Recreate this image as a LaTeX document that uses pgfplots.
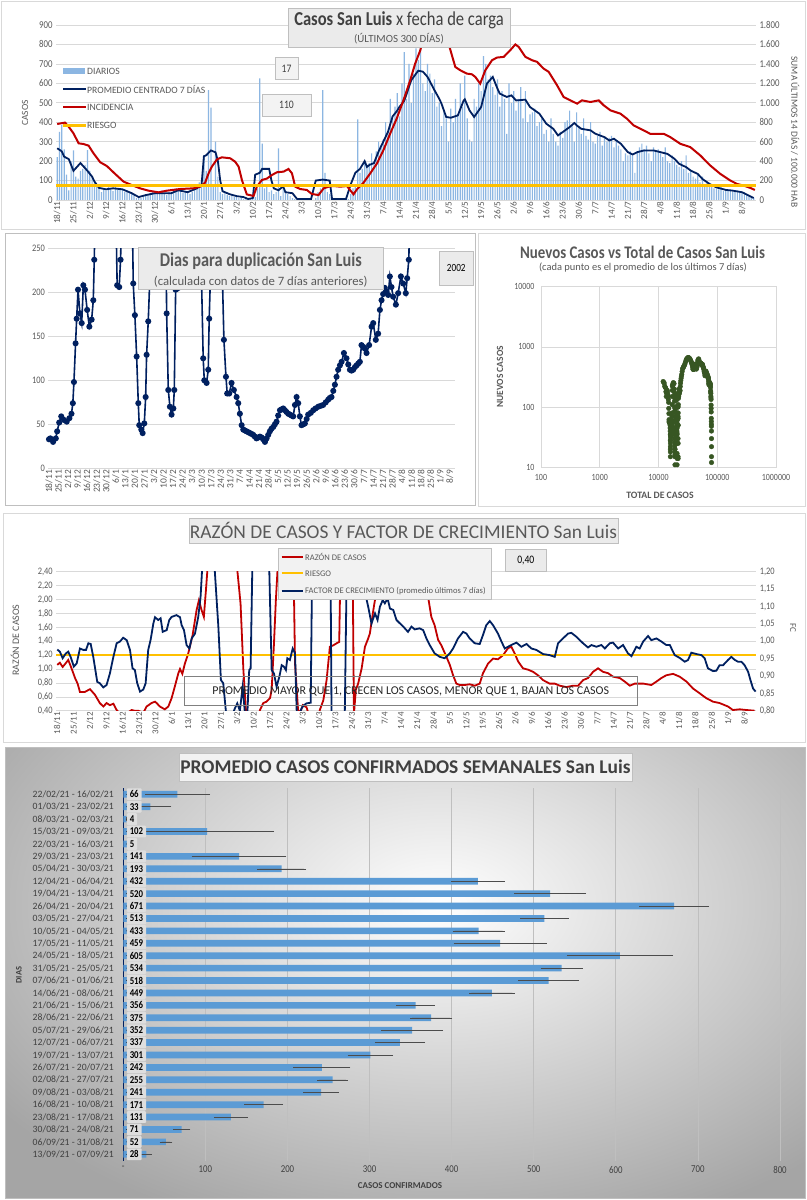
\documentclass[border=0pt]{standalone}
\usepackage{fontspec}
\setmainfont{Carlito}[FakeStretch=0.84]
\newfontfamily\rotf{Carlito}
\usepackage{pgfplots}
\usepackage{pgfplotstable}
\pgfplotsset{compat=1.18}

\definecolor{navy}{RGB}{0,32,96}
\definecolor{rojo}{RGB}{192,0,0}
\definecolor{amar}{RGB}{255,192,0}
\definecolor{celeste}{RGB}{140,182,226}
\definecolor{azul}{RGB}{91,155,213}
\definecolor{verde}{RGB}{55,86,35}
\definecolor{grilla}{RGB}{217,217,217}
\definecolor{txt}{RGB}{89,89,89}
\definecolor{oscuro}{RGB}{64,64,64}
\definecolor{caja}{RGB}{235,235,235}
\definecolor{borde}{RGB}{191,191,191}

\newcommand\fs[1]{\fontsize{#1}{#1}\selectfont}

% casos diarios, 18/11/20 .. 13/09/21 (una semana por linea)
\pgfplotstableread[header=false,row sep=\\]{
220\\350\\385\\260\\130\\50\\200\\
255\\120\\110\\150\\160\\180\\257\\
150\\120\\90\\70\\60\\40\\55\\
50\\80\\55\\45\\70\\60\\55\\
55\\40\\50\\35\\30\\25\\10\\
15\\10\\20\\30\\25\\35\\45\\
40\\35\\30\\50\\35\\25\\40\\
35\\55\\60\\45\\50\\35\\40\\
45\\30\\40\\55\\70\\90\\100\\
230\\150\\565\\475\\80\\300\\120\\
40\\30\\35\\25\\20\\30\\15\\
20\\10\\15\\5\\5\\10\\5\\
10\\15\\60\\625\\290\\60\\80\\
40\\50\\30\\40\\265\\20\\60\\
45\\30\\20\\10\\5\\0\\5\\
5\\0\\5\\0\\5\\0\\10\\
40\\60\\565\\140\\40\\30\\5\\
0\\5\\0\\5\\0\\10\\5\\
30\\60\\80\\415\\140\\160\\200\\
180\\190\\240\\200\\250\\300\\280\\
310\\400\\350\\520\\420\\480\\550\\
430\\600\\760\\520\\700\\500\\650\\
780\\720\\850\\600\\560\\700\\650\\
550\\620\\480\\500\\380\\450\\420\\
300\\470\\400\\520\\440\\600\\480\\
640\\420\\310\\300\\520\\480\\600\\
560\\740\\700\\620\\640\\580\\540\\
620\\480\\560\\520\\340\\600\\500\\
560\\460\\520\\580\\420\\560\\400\\
440\\450\\470\\380\\400\\420\\340\\
360\\300\\420\\340\\300\\280\\350\\
320\\400\\410\\460\\380\\300\\450\\
380\\340\\420\\330\\310\\400\\300\\
290\\330\\350\\280\\320\\300\\320\\
330\\270\\300\\280\\260\\200\\240\\
230\\250\\230\\140\\250\\270\\290\\
260\\280\\240\\200\\270\\250\\260\\
240\\220\\270\\200\\190\\230\\200\\
180\\170\\200\\160\\230\\140\\150\\
120\\110\\130\\90\\120\\80\\90\\
70\\80\\60\\60\\55\\70\\45\\
50\\45\\55\\40\\45\\50\\40\\
35\\40\\25\\20\\15\\10\\
}\diarios

\pgfplotstableread{
r v e
1 66 37
2 33 23
3 4 0
4 102 79
5 5 0
6 141 55
7 193 27
8 432 30
9 520 41
10 671 40
11 513 27
12 433 29
13 459 54
14 605 62
15 534 23
16 518 34
17 449 25
18 356 21
19 375 23
20 352 35
21 337 28
22 301 25
23 242 32
24 255 16
25 241 19
26 171 21
27 131 18
28 71 8
29 52 5
30 28 4
}\semanal

\pgfplotsset{
  base/.style={scale only axis, anchor=north west,
    axis line style={draw=none}, tick style={draw=none},
    /pgf/number format/assume math mode=true,
    ticklabel style={text=txt}, grid style={grilla, line width=0.6bp}},
  fechas/.style={xmin=-0.5, xtick={0,7,...,294},
    xticklabels={18/11,25/11,2/12,9/12,16/12,23/12,30/12,6/1,13/1,20/1,27/1,3/2,10/2,17/2,24/2,3/3,10/3,17/3,24/3,31/3,7/4,14/4,21/4,28/4,5/5,12/5,19/5,26/5,2/6,9/6,16/6,23/6,30/6,7/7,14/7,21/7,28/7,4/8,11/8,18/8,25/8,1/9,8/9},
    x tick label style={rotate=90, anchor=east, inner sep=1.5bp}},
}

\begin{document}
\begin{tikzpicture}
\path[use as bounding box] (0,0) rectangle (807bp,-1200bp);
\fill[white] (0,0) rectangle (807bp,-1200bp);

\begin{scope}[x=1bp,y=-1bp]
\draw[grilla, line width=0.8bp] (1.5,1.5) rectangle (805.5,229.5);
\draw[borde, line width=0.8bp] (5,233) rectangle (475,505);
\draw[grilla, line width=0.8bp] (478,233) rectangle (805,506);
\draw[grilla, line width=0.8bp] (3,513) rectangle (805,742);
\begin{scope}
\clip (5,747) rectangle (805,1198);
\shade[inner color=white, outer color={rgb,255:red,165;green,165;blue,165}] (-110,560) rectangle (990,1250);
\end{scope}
\draw[borde, line width=0.8bp] (5,747) rectangle (805,1198);
\end{scope}

% ---------- casos diarios ----------
\begin{axis}[base, fechas, at={(56bp,-25bp)}, width=700bp, height=175bp,
  xmax=300, ymin=0, ymax=900, ytick={0,100,...,900}, ymajorgrids,
  y tick label style={font=\fs{10.5}}, x tick label style={font=\rotf\fs{9.2}}]
\addplot[ybar, bar width=1.2bp, fill=celeste, draw=none]
  table[x expr=\coordindex, y index=0] {\diarios};
\addplot[navy, line width=1.8bp] coordinates {
(0,266) (2,250) (3,223) (5,210) (7,150) (10,190) (13,150) (15,120) (16,95) (18,62)
(21,55) (24,60) (28,55) (32,35) (35,15) (38,25) (42,35) (49,35) (52,50) (56,40)
(60,60) (62,80) (63,225) (64,230) (66,255) (68,245) (69,200) (70,100) (71,45) (74,30)
(77,20) (80,15) (82,5) (84,10) (85,130) (87,140) (88,160) (91,160) (92,100) (93,60)
(95,50) (97,70) (98,40) (101,35) (103,5) (109,5) (111,100) (114,105) (117,100) (118,5)
(124,5) (126,80) (128,140) (130,160) (132,200) (133,170) (134,180) (136,190) (138,250)
(140,300) (142,350) (144,430) (146,460) (147,480) (149,510) (152,616) (155,665) (157,660)
(159,633) (162,564) (164,521) (165,495) (167,427) (169,423) (172,435) (174.5,512) (175,518)
(177,461) (179,427) (182,478) (184.5,599) (187,633) (189,573) (190,547) (193,530) (195,538)
(197,512) (201,516) (203,478) (207,444) (210,392) (213,366) (215,332) (217,349) (220,375)
(222,396) (223,384) (225,366) (229,358) (231,341) (235,323) (237,306) (239,315) (242,289)
(245,246) (247,234) (249,246) (252,255) (256,255) (259,246) (262,237) (265,212) (267,186)
(270,169) (272,151) (275,134) (277,108) (280,83) (283,65) (287,52) (290,48) (294,40)
(297,22) (299,10)};
\end{axis}
\begin{axis}[base, at={(56bp,-25bp)}, width=700bp, height=175bp,
  xmin=-0.5, xmax=300, ymin=0, ymax=1800, hide x axis, axis y line*=right,
  ytick={0,200,...,1800}, yticklabels={0,200,400,600,800,1.000,1.200,1.400,1.600,1.800},
  y tick label style={font=\fs{10.5}}]
\addplot[rojo, line width=2bp] coordinates {
(0,782) (3.4,796) (4.9,755) (7,686) (9.2,583) (11.3,576) (13.5,559) (15.6,480) (18.5,388)
(21.3,350) (24.9,268) (28.5,189) (32,154) (35.6,120) (39.2,96) (43.5,79) (47.1,96)
(52.8,113) (58.5,120) (61.4,137) (63.5,178) (65,274) (66.4,343) (68.6,418) (70.7,439)
(74.3,429) (76.4,394) (77.9,343) (79.3,206) (81.4,58) (84.3,41) (85.7,137) (87.9,206)
(90,220) (92.2,257) (94.3,285) (97.2,292) (99.3,319) (100.8,274) (102.2,137) (104.3,113)
(107.2,103) (109.3,62) (112.2,51) (114.4,120) (116.5,137) (118.6,144) (121.5,137)
(124.4,144) (127.2,58) (128.7,110) (131.5,178) (134.4,274) (137.3,377) (140.1,515)
(143,686) (145.8,840) (148.7,1029) (151.6,1235) (153.7,1404) (155.9,1541) (157.3,1679)
(158.5,1850) (163,2000) (167,1850) (168,1610) (170.9,1369) (173,1335) (175.9,1300)
(178,1293) (179.5,1266) (181.6,1197) (183.8,1335) (186.7,1438) (188.8,1465) (191.7,1472)
(194.5,1541) (196.7,1600) (198.1,1575) (201,1472) (203.8,1438) (206,1421) (208.8,1352)
(211,1318) (214.6,1180) (217.4,1060) (220.3,1025) (223.2,991) (225.3,1025) (228.9,1008)
(232.5,1025) (234.6,974) (237.5,922) (241.8,888) (244.6,836) (247.5,767) (250.4,733)
(254.6,681) (260.4,681) (263.2,647) (267.5,578) (271.8,544) (276.1,458) (280.4,354)
(284.7,268) (289,200) (291.9,165) (294.7,148) (297.6,124) (299.5,103)};
\addplot[amar, line width=2.2bp] coordinates {(-0.5,150) (300,150)};
\end{axis}

% ---------- dias para duplicacion ----------
\begin{axis}[base, fechas, at={(48.3bp,-248.3bp)}, width=407bp, height=220bp,
  xmax=298, ymin=0, ymax=250, ytick={0,50,...,250}, ymajorgrids,
  y tick label style={font=\fs{10}}, x tick label style={font=\rotf\fs{9.5}}]
\addplot[navy, line width=1.6bp, mark=*, mark size=2.2bp, mark options={fill=navy}] coordinates {
(0,33) (1,34) (3,30) (5,34) (6,42) (7.5,52) (9,59) (11,55) (13,53) (15,57) (16.5,62)
(17.5,74) (18.3,98) (19.5,142) (20.3,170) (21.3,203) (22.7,176) (24,165) (25.2,208)
(26.4,203) (28,180) (29.6,161) (31.3,169) (32.5,191) (33.2,237) (34,300) (41,400)
(49,300) (50,208) (51.5,206) (52.5,237) (53.5,300) (57,400) (61,300) (61.8,210) (63,174)
(64.3,127) (65.5,74) (66.2,49) (67.7,44) (68.7,40) (69.9,51) (70.9,81) (71.6,129)
(72.8,167) (74,218) (75,300) (80,400) (85.5,300) (86.3,176) (87.5,89) (88.7,70)
(89.9,61) (91.2,68) (91.9,89) (92.9,203) (93.8,204) (94.8,205) (96,300) (104,400)
(111.5,300) (112,206) (113.1,125) (113.9,100) (115.6,97) (116.8,112) (117.5,170)
(118.5,222) (119.5,300) (123,400) (126.8,300) (127.3,210) (128.3,146) (129.8,104)
(130.7,85) (132.2,85) (133.9,97) (135.6,89) (137.6,81) (138.8,74) (140,62) (141.3,49)
(142.5,44) (143.7,43) (144.9,42) (146.2,41) (147.4,40) (148.6,39) (149.8,38) (151,36)
(152.2,34) (153.5,35) (154.7,36) (155.9,35) (157.1,33) (158.4,30) (159.6,34) (160.8,38)
(162,42) (163.2,45) (164.5,47) (165.7,50) (166.9,53) (168.1,60) (169.4,66) (170.6,67)
(171.8,68) (173,66) (174.2,64) (175.5,62) (176.7,61) (177.9,60) (179.1,59) (180.4,72)
(181.6,81) (182.8,74) (184,59) (185.2,49) (186.5,50) (187.7,51) (189,56) (190.1,61)
(192,63) (193.8,66) (195.5,68) (197.5,70) (199.3,71) (201.1,72) (203,75) (204.8,78)
(206,80) (207.2,81) (208.5,88) (209.7,95) (210.9,104) (212.1,112) (213.4,117) (214.6,121)
(216.3,131) (218.2,125) (219.5,118) (220.7,112) (221.9,111) (223.1,112) (224.4,115)
(225.6,117) (226.8,119) (228,121) (229.2,140) (230.5,138) (231.7,136) (232.9,131)
(234.8,140) (236.6,161) (237.8,165) (239.7,146) (241.4,153) (242.7,180) (243.9,191)
(245.1,198) (246.3,205) (247.5,201) (248.8,197) (250,218) (251.2,206) (252.4,195)
(254.4,186) (256.1,199) (258.1,218) (259.8,210) (261.7,199) (262.7,216) (263.9,237)
(264.8,300)};
\end{axis}

% ---------- nuevos vs total ----------
\begin{axis}[base, at={(541bp,-286.7bp)}, width=235bp, height=180.6bp,
  xmode=log, ymode=log, xmin=100, xmax=1000000, ymin=10, ymax=10000,
  grid=major, axis line style={draw=grilla, line width=0.6bp},
  xtick={100,1000,10000,100000,1000000}, xticklabels={100,1000,10000,100000,1000000},
  ytick={10,100,1000,10000}, yticklabels={10,100,1000,10000},
  ticklabel style={font=\fs{9.5}}, x tick label style={yshift=-4bp},
  y tick label style={xshift=-3bp}]
\addplot[only marks, mark=*, mark size=2.3bp, verde, mark options={fill=verde}] coordinates {
(12000,266) (12260,258) (12516,250) (12753,223) (12970,215) (13186,210) (13370,180)
(13546,150) (13720,170) (13890,185) (14056,190) (14230,175) (14400,160) (14566,150)
(14700,135) (14836,120) (14944,95) (15030,78) (15101,62) (15160,58) (15220,56) (15277,55)
(15335,57) (15395,59) (15450,60) (15510,58) (15565,57) (15620,56) (15680,55) (15730,50)
(15780,45) (15825,40) (15860,35) (15890,28) (15915,20) (15935,15) (15955,18) (15975,22)
(15995,25) (16030,28) (16060,31) (16090,33) (16115,35) (16150,35) (16220,35) (16290,35)
(16360,35) (16400,40) (16445,45) (16488,50) (16535,47) (16580,45) (16625,42) (16668,40)
(16715,45) (16765,50) (16815,55) (16868,60) (16935,70) (17008,80) (17040,110) (17080,150)
(17120,190) (17161,225) (17389,230) (17630,245) (17874,255) (18130,250) (18374,245)
(18597,200) (18640,175) (18680,150) (18715,125) (18747,100) (18770,85) (18790,70)
(18805,57) (18820,45) (18860,40) (18895,35) (18933,30) (18960,26) (18985,23) (19008,20)
(19025,18) (19045,16) (19061,15) (19072,11) (19100,20) (19115,35) (19130,60) (19150,95)
(19166,130) (19300,135) (19436,140) (19586,160) (19750,160) (19910,160) (20066,160)
(20140,130) (20196,100) (20240,80) (20276,60) (20330,55) (20386,50) (20445,60) (20506,70)
(20540,55) (20561,40) (20600,38) (20640,36) (20674,35) (20690,25) (20700,17) (20706,11)
(20770,14) (20780,30) (20795,45) (20810,60) (20830,80) (20849,100) (20950,102)
(21050,104) (21157,105) (21260,103) (21360,101) (21465,100) (21485,70) (21500,50)
(21508,30) (21514,15) (21575,14) (21585,25) (21600,50) (21615,65) (21633,80) (21740,110)
(21853,140) (22000,150) (22153,160) (22330,180) (22513,200) (22698,170) (22873,180)
(23060,185) (23243,190) (23460,220) (23683,250) (23950,275) (24233,300) (24550,325)
(24883,350) (25260,390) (25663,430) (26100,445) (26553,460) (27023,480) (27500,495)
(28013,510) (28560,545) (29120,580) (29702,616) (30330,635) (30970,650) (31624,665)
(32290,663) (32949,660) (33600,647) (34242,633) (34840,610) (35440,587) (36038,564)
(36580,542) (37123,521) (37631,495) (38100,460) (38553,427) (39000,425) (39403,423)
(39830,427) (40260,431) (40690,435) (41300,475) (41874,512) (42132,518) (42620,490)
(43111,461) (43560,444) (43999,427) (44450,445) (44900,461) (45357,478) (46050,540)
(46703,599) (47480,616) (48243,633) (48840,603) (49449,573) (50009,547) (50560,541)
(51100,536) (51625,530) (52160,534) (52693,538) (53220,525) (53743,512) (54770,514)
(55799,516) (56300,497) (56793,478) (57720,461) (58637,444) (59260,418) (59891,392)
(60460,379) (61028,366) (61726,332) (62407,349) (62950,362) (63493,375) (64264,396)
(64654,384) (65404,366) (66130,362) (66852,358) (67551,341) (68220,332) (68879,323)
(69508,306) (70129,315) (70580,302) (71035,289) (71440,267) (71838,246) (72318,234)
(72798,246) (73170,250) (73550,255) (74060,255) (74570,255) (74950,250) (75322,246)
(75690,241) (76047,237) (76390,225) (76721,212) (77119,186) (77390,178) (77652,169)
(77972,151) (78190,142) (78400,134) (78642,108) (78790,95) (78929,83) (79151,65)
(79270,58) (79385,52) (79535,48) (79711,40) (79760,30) (79804,22) (79830,15) (79836,12)};
\end{axis}

% ---------- razon de casos y factor de crecimiento ----------
\begin{axis}[base, fechas, at={(56.1bp,-571.7bp)}, width=700.2bp, height=139bp,
  xmax=299, ymin=0.4, ymax=2.4, ytick={0.4,0.6,0.8,1,1.2,1.4,1.6,1.8,2,2.2,2.4},
  yticklabels={{0,40},{0,60},{0,80},{1,00},{1,20},{1,40},{1,60},{1,80},{2,00},{2,20},{2,40}},
  ymajorgrids, y tick label style={font=\fs{10}}, x tick label style={font=\rotf\fs{9}}]
\addplot[rojo, line width=1.8bp] coordinates {
(0,1.06) (1.1,1.09) (2.3,1.03) (3.3,1.07) (4.7,1.13) (6.1,1.01) (7.6,0.87) (8.7,0.79)
(9.7,0.67) (11.8,0.67) (14,0.71) (16.1,0.63) (18.2,0.51) (19.7,0.46) (21.1,0.51)
(22.5,0.48) (24,0.50) (25.4,0.41) (27,0.35) (29,0.33) (30.5,0.38) (31.8,0.41) (33,0.40)
(34.6,0.40) (36.8,0.37) (38.2,0.46) (40.3,0.51) (41.8,0.53) (42.5,0.51) (43.9,0.46)
(46,0.42) (47.5,0.46) (48.9,0.58) (50.3,0.75) (51.8,0.94) (52.5,1.0) (53.5,0.93)
(54.6,1.08) (56,1.22) (57.9,1.49) (59.6,1.85) (60.6,1.99) (61.7,1.85) (62.7,1.75)
(63.6,2.14) (64.6,2.6) (70,4) (76.5,2.6) (78.4,1.94) (79.6,0.99) (80.7,0.41) (82,0.2)
(86,0.3) (86.7,0.41) (88.1,0.51) (89.5,0.53) (91,0.58) (91.7,0.70) (92.7,1.37) (93.5,1.99)
(94.5,2.6) (98,4) (101,2.6) (101.7,1.08) (103,0.41) (104,0.38) (105,0.48) (106.6,0.45)
(108,0.3) (111,0.2) (112.3,0.41) (113.8,0.55) (115.2,0.84) (115.9,1.08) (116.6,1.32)
(118,1.34) (119.5,1.37) (120.6,1.39) (121.2,2.6) (124,4) (126.3,2.6) (126.9,0.35)
(127.7,0.70) (128.7,0.79) (130.2,1.01) (131.6,1.32) (133,1.44) (133.7,1.51) (135.2,1.85)
(136.6,2.14) (137.3,2.5) (145,4) (157.2,2.45) (158.6,2.04) (160,1.75) (161.4,1.63)
(162.9,1.42) (164.3,1.34) (166.4,1.18) (167.9,1.06) (169.3,0.91) (170.7,0.79) (172.1,0.77)
(174.3,0.77) (176.4,0.78) (178.6,0.76) (180.7,0.79) (182.1,0.94) (184.3,1.08) (186.4,1.15)
(188.5,1.14) (190.7,1.2) (192.8,1.30) (194.2,1.32) (195.7,1.22) (197.1,1.11) (199.2,1.01)
(201.4,0.99) (203.5,0.96) (205.6,0.91) (207.8,0.84) (210.6,0.79) (212.8,0.79) (214.9,0.76)
(217.8,0.74) (220.6,0.76) (222.8,0.76) (224.9,0.84) (227,0.87) (229.2,0.96) (231.3,1.01)
(233.4,0.96) (235.6,0.94) (237.7,0.89) (240.6,0.87) (242.7,0.82) (244.9,0.76) (247,0.79)
(250.6,0.79) (254.1,0.77) (256.3,0.82) (258.4,0.87) (260.5,0.91) (263.4,0.93) (266.2,0.89)
(269.1,0.82) (271.9,0.72) (274.8,0.65) (277.6,0.58) (280.5,0.53) (283.3,0.51) (286.9,0.46)
(289,0.41) (291.9,0.42) (294.8,0.41) (298.3,0.40)};
\addplot[amar, line width=2.2bp] coordinates {(-0.5,1.2) (299,1.2)};
\end{axis}
\begin{axis}[base, at={(56.1bp,-571.7bp)}, width=700.2bp, height=139bp,
  xmin=-0.5, xmax=299, ymin=0.8, ymax=1.2, hide x axis, axis y line*=right,
  ytick={0.8,0.85,0.9,0.95,1,1.05,1.1,1.15,1.2},
  yticklabels={{0,80},{0,85},{0,90},{0,95},{1,00},{1,05},{1,10},{1,15},{1,20}},
  y tick label style={font=\fs{10}}]
\addplot[navy, line width=1.8bp] coordinates {
(0,0.976) (1.1,0.97) (2.3,0.951) (3.7,0.965) (4.7,0.97) (5.7,0.955) (7.1,0.927) (8.3,0.936)
(9.7,0.979) (11.1,0.975) (12.3,0.975) (13.3,0.994) (14.3,0.992) (15.4,0.955) (17.1,0.883)
(18.2,0.879) (19.7,0.867) (21.1,0.874) (22.5,0.907) (24,0.955) (25.4,0.994) (26.8,0.999)
(28.2,1.01) (29.7,1.003) (31.1,0.975) (32.2,0.922) (33.2,0.917) (34.2,0.879) (35.4,0.855)
(36.8,0.861) (37.8,0.879) (38.9,0.975) (39.9,1.003) (41.1,1.051) (41.8,1.069) (43.2,1.061)
(44.2,1.066) (45.1,1.027) (46.8,1.032) (47.9,1.061) (48.9,1.07) (51,1.075) (52.5,1.069)
(53.2,1.046) (54.2,1.032) (55.3,0.989) (56.5,0.979) (57.5,1.008) (58.9,1.022) (60.3,1.07)
(61.3,1.128) (61.9,1.2) (62.5,1.3) (66.8,1.3) (67.4,1.2) (68.9,1.042) (70,0.888) (71,0.879)
(72.1,0.8) (73,0.78) (75,0.79) (76,0.807) (77,0.821) (78.1,0.8) (79.3,0.869) (80.3,0.79)
(81.3,0.79) (82.1,0.917) (82.7,0.922) (83.4,1.2) (84,1.3) (90,1.3) (90.7,1.2) (91.7,0.917)
(92.7,0.907) (93.8,0.869) (95,0.898) (96,0.931) (96.9,0.927) (97.8,0.917) (98.4,0.951)
(99.5,0.946) (100.7,0.979) (101.7,0.965) (102.4,0.8) (103,0.78) (104.5,0.807) (105.5,0.816)
(106.6,0.821) (108.4,0.823) (109,1.2) (109.5,1.3) (116.5,1.3) (116.9,1.2) (117.3,0.8)
(118,0.75) (122.5,0.75) (123,0.8) (123.8,1.2) (124.5,1.3) (131,1.3) (132.3,1.12)
(133,1.099) (134.4,1.051) (135.9,1.08) (137,1.061) (138,1.099) (139.2,1.118) (140.1,1.109)
(141.3,1.123) (142.3,1.094) (143.7,1.09) (145.1,1.061) (146.6,1.051) (148,1.042) (150,1.027)
(151.5,1.042) (152.9,1.034) (155,1.037) (156.5,1.032) (157.9,1.008) (159.3,0.989)
(161.4,0.965) (163.6,0.955) (165.7,0.951) (167.9,0.965) (169.3,0.979) (171.4,1.008)
(173.6,1.027) (175,1.022) (176.4,1.008) (178.6,0.994) (180.7,0.992) (182.1,1.018)
(183.5,1.046) (185,1.058) (186.4,1.046) (188.5,1.022) (190,0.999) (191.4,0.979) (192.8,0.984)
(194.2,0.989) (196.4,0.996) (198.5,0.984) (200.7,0.992) (202.8,0.979) (204.9,0.975)
(207.8,0.963) (210.6,0.96) (212.8,0.955) (214.2,0.994) (216.3,1.008) (218.5,1.022)
(219.9,1.024) (222,1.013) (224.9,0.994) (227,0.982) (228.5,0.989) (230.6,0.984) (232.7,0.989)
(234.2,0.979) (236.3,0.994) (237.7,0.996) (239.9,0.979) (242,0.989) (244.1,0.965)
(245.6,0.957) (247.7,0.984) (249.1,0.979) (250.6,0.999) (252.7,1.015) (254.1,1.003)
(256.3,1.008) (258.4,0.999) (260.5,0.989) (262,0.989) (264.1,0.96) (266.2,0.952) (268.4,0.941)
(269.8,0.946) (271.2,0.967) (273.4,0.963) (275.5,0.96) (276.9,0.951) (278.3,0.922)
(280.5,0.914) (281.9,0.915) (283.3,0.931) (284.8,0.931) (286.9,0.946) (288.3,0.955)
(289.8,0.946) (291.2,0.941) (292.6,0.941) (294,0.931) (295.5,0.912) (296.5,0.888)
(297.6,0.864) (298.7,0.855)};
\end{axis}

% ---------- promedio semanal ----------
\begin{axis}[base, at={(123.3bp,-788.1bp)}, width=656.7bp, height=372.4bp,
  xmin=0, xmax=800, ymin=0.5, ymax=30.5, y dir=reverse,
  xtick={0,100,...,800}, xticklabels={-,100,200,300,400,500,600,700,800},
  xmajorgrids, grid style={borde, line width=0.7bp},
  extra x ticks={0}, extra x tick labels={},
  extra x tick style={xmajorgrids=true, grid style={navy, line width=1.4bp}},
  ytick={1,...,30},
  yticklabels={22/02/21 - 16/02/21,01/03/21 - 23/02/21,08/03/21 - 02/03/21,15/03/21 - 09/03/21,22/03/21 - 16/03/21,29/03/21 - 23/03/21,05/04/21 - 30/03/21,12/04/21 - 06/04/21,19/04/21 - 13/04/21,26/04/21 - 20/04/21,03/05/21 - 27/04/21,10/05/21 - 04/05/21,17/05/21 - 11/05/21,24/05/21 - 18/05/21,31/05/21 - 25/05/21,07/06/21 - 01/06/21,14/06/21 - 08/06/21,21/06/21 - 15/06/21,28/06/21 - 22/06/21,05/07/21 - 29/06/21,12/07/21 - 06/07/21,19/07/21 - 13/07/21,26/07/21 - 20/07/21,02/08/21 - 27/07/21,09/08/21 - 03/08/21,16/08/21 - 10/08/21,23/08/21 - 17/08/21,30/08/21 - 24/08/21,06/09/21 - 31/08/21,13/09/21 - 07/09/21},
  ticklabel style={text=oscuro}, y tick label style={font=\rotf\fs{9.7}, xshift=-6bp},
  x tick label style={font=\fs{10.5}, yshift=-2bp}]
\addplot[xbar, bar width=6.7bp, fill=azul, draw=none,
  error bars/.cd, x dir=both, x explicit,
  error bar style={black!70, line width=0.5bp},
  error mark options={black!70, line width=0.5bp, mark size=2.2bp}]
  table[x=v, y=r, x error=e] {\semanal};
\addplot[only marks, mark=*, mark size=0.1bp, mark options={draw=none, fill=none},
  nodes near coords, point meta=explicit symbolic,
  nodes near coords style={anchor=west, font=\bfseries\fs{10.5}, text=black,
    fill={rgb,255:red,222;green,222;blue,222}, inner xsep=3bp, inner ysep=0bp,
    minimum height=11.8bp, rounded corners=1bp}]
  table[x expr=4, y=r, meta=v] {\semanal};
\end{axis}

% ---------- textos y cajas ----------
\begin{scope}[x=1bp,y=-1bp]
% panel superior
\node[draw=borde, fill=caja, minimum width=222bp, minimum height=39bp] at (399,27.5) {};
\node[text=oscuro, font=\fs{19.8}] at (399,20) {\textbf{Casos San Luis} x fecha de carga};
\node[text=txt, font=\rotf\fs{11}] at (399,38.5) {(ÚLTIMOS 300 DÍAS)};
\fill[celeste] (63,68) rectangle (85,74);
\node[anchor=west, font=\rotf\fs{9.7}, text=txt, inner sep=1bp] at (86,71) {DIARIOS};
\draw[navy, line width=2.2bp] (63,89.3) -- (86,89.3);
\node[anchor=west, font=\rotf\fs{9.7}, text=txt, inner sep=1bp] at (86,89.3) {PROMEDIO CENTRADO 7 DÍAS};
\draw[rojo, line width=2.2bp] (63,107.3) -- (86,107.3);
\node[anchor=west, font=\rotf\fs{9.7}, text=txt, inner sep=1bp] at (86,107.3) {INCIDENCIA};
\draw[amar, line width=2.5bp] (63,125.3) -- (86,125.3);
\node[anchor=west, font=\rotf\fs{9.7}, text=txt, inner sep=1bp] at (86,125.3) {RIESGO};
\node[draw=borde, fill=caja!60, minimum width=23bp, minimum height=22bp, font=\fs{11.5}, text=oscuro] at (286.5,68.5) {17};
\node[draw=borde, fill=caja!60, minimum width=49bp, minimum height=22bp, font=\fs{11.5}, text=oscuro] at (286.5,105) {110};
\node[rotate=90, font=\rotf\fs{9.5}, text=txt] at (25,113) {CASOS};
\node[rotate=-90, font=\rotf\fs{9.5}, text=txt] at (795,132) {SUMA ÚLTIMOS 14 DÍAS / 100.000 HAB};
% duplicacion
\node[draw=borde, fill=caja, minimum width=245bp, minimum height=42.6bp] at (260.8,268) {};
\node[font=\bfseries\fs{19.5}, text=txt] at (260.8,261) {Dias para duplicación San Luis};
\node[font=\rotf\fs{12.8}, text=txt] at (260.8,281.5) {(calculada con datos de 7 días anteriores)};
\node[draw=borde, fill=caja, minimum width=34bp, minimum height=34bp, font=\fs{11}, text=black] at (456.3,268) {2002};
% dispersion
\node[font=\bfseries\fs{17.8}, text=txt] at (642.5,252) {Nuevos Casos vs Total de Casos San Luis};
\node[font=\rotf\fs{10.5}, text=txt] at (643,267.3) {(cada punto es el promedio de los últimos 7 días)};
\node[rotate=90, font=\rotf\bfseries\fs{9.5}, text=txt] at (500,376.7) {NUEVOS CASOS};
\node[font=\rotf\bfseries\fs{9.8}, text=txt] at (660,495.7) {TOTAL DE CASOS};
% razon
\node[draw=borde, fill=caja, minimum width=429bp, minimum height=25bp] at (403.5,530.5) {};
\node[font=\rotf\fs{19.5}, text=txt] at (403.5,530.5) {RAZÓN DE CASOS Y FACTOR DE CRECIMIENTO San Luis};
\node[draw=borde, fill={rgb,255:red,242;green,242;blue,242}, minimum width=213bp, minimum height=51.6bp, anchor=north west] at (277.5,547.7) {};
\draw[rojo, line width=2bp] (281.7,556.7) -- (303.3,556.7);
\node[anchor=west, font=\rotf\fs{8.6}, text=txt, inner sep=1bp] at (304,556.7) {RAZÓN DE CASOS};
\draw[amar, line width=2.3bp] (281.7,573.3) -- (303.3,573.3);
\node[anchor=west, font=\rotf\fs{8.6}, text=txt, inner sep=1bp] at (304,573.3) {RIESGO};
\draw[navy, line width=2bp] (281.7,591) -- (303.3,591);
\node[anchor=west, font=\rotf\fs{8.6}, text=txt, inner sep=1bp] at (304,591) {FACTOR DE CRECIMIENTO (promedio últimos 7 días)};
\node[draw=borde, fill=caja, minimum width=41bp, minimum height=21.7bp, font=\fs{11.5}, text=black] at (525.8,560.2) {0,40};
\draw[gray, line width=0.7bp] (184.3,676.7) rectangle (637.3,705);
\node[font=\rotf\fs{12}, text=black!85] at (410.8,691.5) {PROMEDIO MAYOR QUE 1, CRECEN LOS CASOS, MENOR QUE 1, BAJAN LOS CASOS};
\node[rotate=90, font=\rotf\fs{10}, text=txt] at (15,640) {RAZÓN DE CASOS};
\node[rotate=-90, font=\rotf\fs{9}, text=txt] at (793,628) {FC};
% semanal
\node[draw=borde, fill={rgb,255:red,242;green,242;blue,242}, minimum width=452.4bp, minimum height=27.7bp] at (405.5,767.2) {};
\node[font=\rotf\bfseries\fs{19.5}, text=oscuro] at (405.5,767.2) {PROMEDIO CASOS CONFIRMADOS SEMANALES San Luis};
\node[rotate=90, font=\rotf\bfseries\fs{8.5}, text=oscuro] at (19,975) {DIAS};
\node[font=\rotf\bfseries\fs{9}, text=oscuro] at (400,1186) {CASOS CONFIRMADOS};
\end{scope}
\end{tikzpicture}
\end{document}
